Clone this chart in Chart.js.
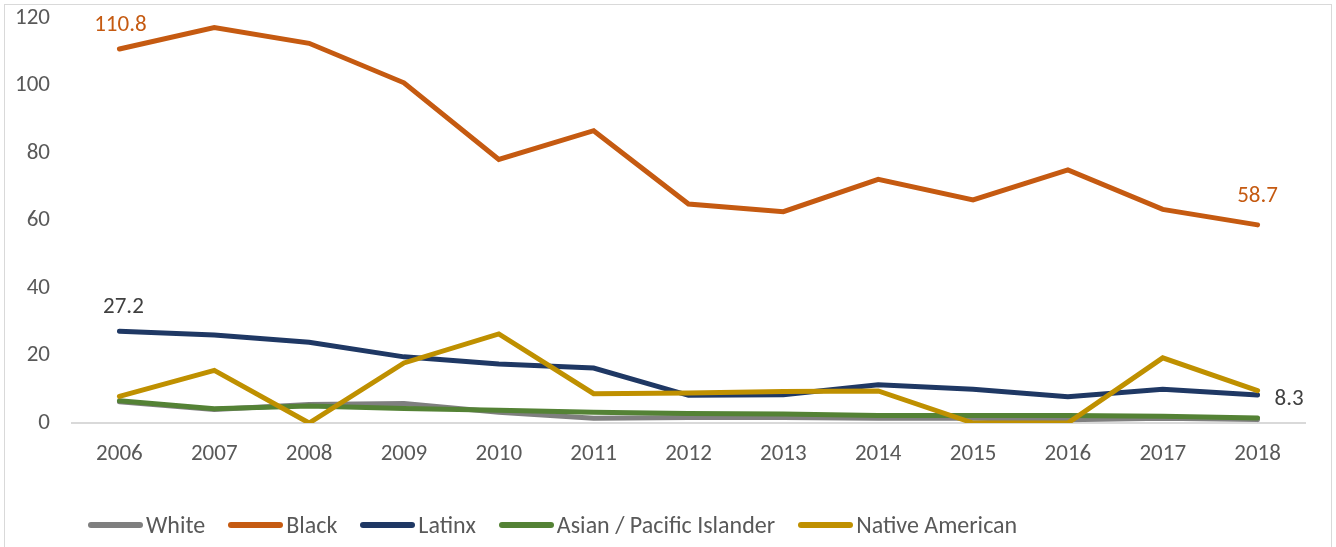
<!DOCTYPE html>
<html>
<head>
<meta charset="utf-8">
<script src="https://cdn.jsdelivr.net/npm/chart.js@4.4.0/dist/chart.umd.min.js"></script>
<style>
    html, body { margin: 0; padding: 0; background: #fff; overflow: hidden; }
    #wrap { position: relative; width: 1336px; height: 547px; }
    #frame { position: absolute; left: 4px; top: 4px; width: 1328px; height: 600px; border: 1px solid #d9d9d9; box-sizing: border-box; }
    canvas { position: absolute; left: 0; top: 0; }
    #legend { position: absolute; left: 88px; top: 510px; display: flex; align-items: center; font-family: Carlito, 'Open Sans', sans-serif; font-size: 24px; color: #595959; }
    .item { display: flex; align-items: center; margin-right: 23px; }
    .swatch { width: 55px; height: 6px; border-radius: 3px; margin-right: 3px; }
</style>
</head>
<body>
<div id="wrap">
    <div id="frame"></div>
    <canvas id="grafico" width="1336" height="547"></canvas>
    <div id="legend"></div>
</div>
<script>
const anos = ['2006', '2007', '2008', '2009', '2010', '2011', '2012', '2013', '2014', '2015', '2016', '2017', '2018'];

const nomes = ['White', 'Black', 'Latinx', 'Asian / Pacific Islander', 'Native American'];
const cores = ['#7F7F7F', '#C55A11', '#1F3864', '#548235', '#BF9000'];

const white = [6.3, 4.0, 5.5, 5.8, 3.2, 1.4, 1.6, 1.6, 1.4, 1.4, 1.0, 1.4, 1.0];
const black = [110.8, 117.2, 112.5, 100.8, 78.1, 86.6, 64.9, 62.6, 72.2, 66.1, 75.0, 63.3, 58.7];
const latinx = [27.2, 26.1, 23.9, 19.6, 17.5, 16.3, 8.2, 8.4, 11.3, 10.0, 7.8, 10.0, 8.3];
const asian = [6.6, 4.2, 5.0, 4.3, 3.8, 3.2, 2.8, 2.7, 2.2, 2.2, 2.2, 2.0, 1.5];
const native = [7.9, 15.6, 0, 17.8, 26.4, 8.7, 8.9, 9.3, 9.5, 0, 0, 19.3, 9.6];

const ticksY = [0, 20, 40, 60, 80, 100, 120];

// rotulos de dados: serie, indice do ano, cor
const rotulos = [
    { serie: 1, idx: 0, cor: '#C55A11', dx: 1, dy: -24, align: 'center' },
    { serie: 1, idx: 12, cor: '#C55A11', dx: 0, dy: -29, align: 'center' },
    { serie: 2, idx: 0, cor: '#404040', dx: 4, dy: -24, align: 'center' },
    { serie: 2, idx: 12, cor: '#404040', dx: 17, dy: 4, align: 'left' }
];

const fonte = "Carlito, 'Open Sans', sans-serif";
const series = [white, black, latinx, asian, native];

const pluginRotulos = {
    id: 'rotulos',
    afterDatasetsDraw(chart) {
        const ctx = chart.ctx;
        ctx.save();
        ctx.font = '23px ' + fonte;
        ctx.textBaseline = 'middle';
        rotulos.forEach(r => {
            const ponto = chart.getDatasetMeta(r.serie).data[r.idx];
            const valor = chart.data.datasets[r.serie].data[r.idx];
            ctx.fillStyle = r.cor;
            ctx.textAlign = r.align;
            ctx.fillText(valor.toFixed(1), ponto.x + r.dx, ponto.y + r.dy);
        });
        ctx.restore();
    }
};

const ctx = document.getElementById('grafico').getContext('2d');
const chart = new Chart(ctx, {
    type: 'line',
    data: {
        labels: anos,
        datasets: series.map((dados, i) => ({
            label: nomes[i],
            data: dados,
            borderColor: cores[i],
            backgroundColor: cores[i],
            borderWidth: 5,
            pointRadius: 0,
            tension: 0,
            borderCapStyle: 'round',
            fill: false,
            order: series.length - i
        }))
    },
    options: {
        responsive: false,
        animation: false,
        events: [],
        layout: { padding: { top: 18, right: 31, left: 0, bottom: 0 } },
        plugins: {
            legend: { display: false },
            tooltip: { enabled: false }
        },
        scales: {
            x: {
                offset: true,
                grid: { display: false, drawTicks: false },
                border: { display: true, color: '#d9d9d9', width: 2 },
                ticks: { color: '#595959', font: { size: 23, family: fonte }, padding: 17, maxRotation: 0 },
                afterFit: function (scale) { scale.height = 124; }
            },
            y: {
                min: 0,
                max: 120,
                afterBuildTicks: function (scale) { scale.ticks = ticksY.map(v => ({ value: v })); },
                grid: { display: false, drawTicks: false },
                border: { display: false },
                ticks: { color: '#595959', font: { size: 23, family: fonte }, padding: 22 },
                afterFit: function (scale) {
                    scale.width = 72;
                    scale.paddingTop = 0;
                    scale.paddingBottom = 0;
                }
            }
        }
    },
    plugins: [pluginRotulos]
});

// legenda
const legenda = document.getElementById('legend');
nomes.forEach((nome, i) => {
    const item = document.createElement('div');
    item.className = 'item';
    item.innerHTML = '<div class="swatch" style="background:' + cores[i] + '"></div><span>' + nome + '</span>';
    legenda.appendChild(item);
});
</script>
</body>
</html>
